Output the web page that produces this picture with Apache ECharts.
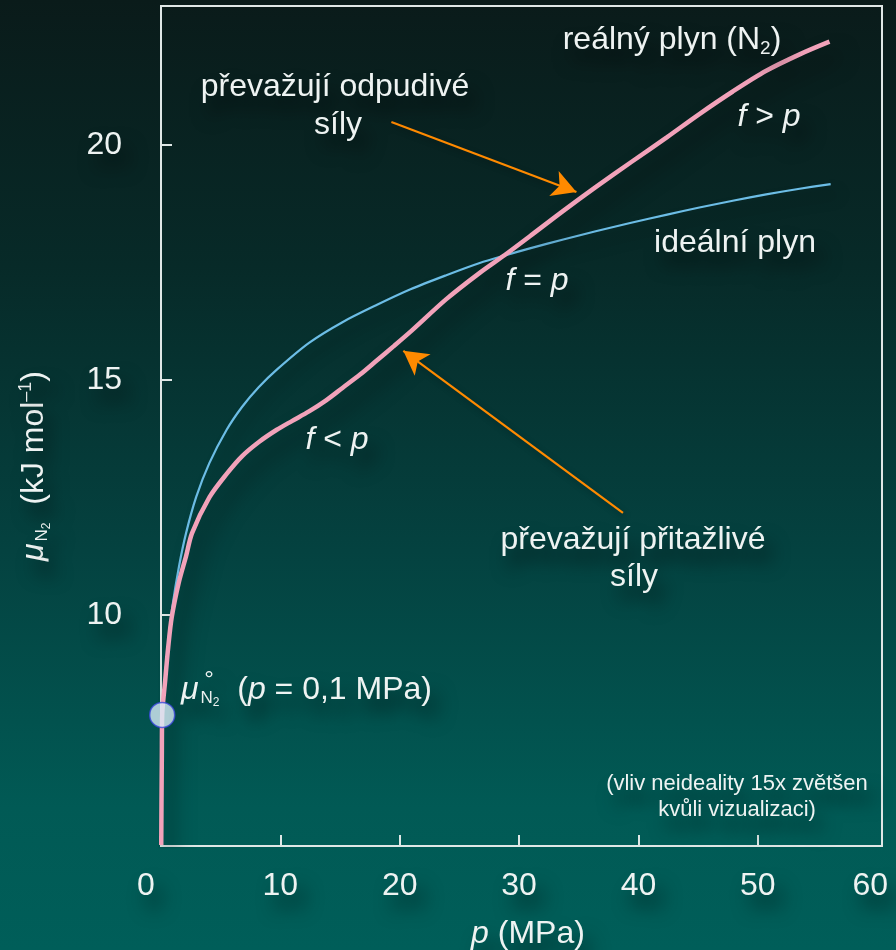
<!DOCTYPE html>
<html>
<head>
<meta charset="utf-8">
<script src="https://cdn.jsdelivr.net/npm/echarts@6/dist/echarts.min.js"></script>
<style>
  html, body { margin: 0; padding: 0; }
  #chart {
    width: 896px; height: 950px;
    background: linear-gradient(to bottom, #0a1b1a 0%, #072a28 28%, #044240 58%, #015a55 85%, #005e59 100%);
  }
</style>
</head>
<body>
<div id="chart"></div>
<script>
// Chemical potential of nitrogen vs. pressure: ideal gas and real gas (N2)
const idealP  = [0.02, 0.04, 0.07, 0.1, 0.35, 0.6, 0.95, 1.5, 2.1, 2.95, 4.05, 5.5, 6.8, 8.2, 9.7, 12.4, 15.2, 18.1, 20.9, 23.9, 26.7, 28.8, 30.9, 33.7, 36.5, 39.3, 42.4, 45.1, 48.0, 50.7, 53.5, 56.1];
const idealMu = [5.1, 6.0, 7.0, 7.87, 8.7, 9.4, 10.17, 11.02, 11.74, 12.51, 13.23, 13.94, 14.43, 14.85, 15.22, 15.79, 16.23, 16.6, 16.93, 17.23, 17.49, 17.65, 17.8, 17.99, 18.17, 18.34, 18.52, 18.67, 18.82, 18.95, 19.07, 19.17];

const realP  = [0.02, 0.04, 0.07, 0.1, 0.35, 0.6, 0.9, 1.5, 2.1, 2.6, 4.05, 5.5, 6.8, 8.2, 9.7, 11.0, 12.4, 13.8, 15.2, 16.7, 18.1, 19.5, 21.0, 23.9, 26.7, 28.8, 30.9, 33.7, 36.5, 39.4, 42.4, 45.1, 47.9, 50.7, 53.5, 56.0];
const realMu = [5.1, 6.0, 7.0, 7.87, 8.6, 9.3, 9.95, 10.7, 11.25, 11.74, 12.5, 13.0, 13.38, 13.68, 13.94, 14.13, 14.33, 14.56, 14.83, 15.12, 15.42, 15.72, 16.05, 16.72, 17.28, 17.66, 18.06, 18.6, 19.12, 19.64, 20.17, 20.66, 21.14, 21.58, 21.93, 22.2];

// standard state point, p = 0.1 MPa
const standardP = 0.1;
const standardMu = 7.87;

const xTickValues = [0, 10, 20, 30, 40, 50, 60];
const xInnerTicks = [10, 20, 30, 40, 50];
const yTickValues = [10, 15, 20];

const FONT = '"Liberation Sans", Arial, Helvetica, sans-serif';
const INK = '#eef3f2';
const AXIS = '#dfe7e6';
const SHADOW = {
  textShadowColor: 'rgba(0,0,0,0.65)',
  textShadowBlur: 18,
  textShadowOffsetX: 8,
  textShadowOffsetY: 14
};
const BIG = 32;

const zip = (xs, ys) => xs.map((x, i) => [x, ys[i]]);

function note(x, y, text, size, rich, extra) {
  return Object.assign({
    type: 'text', x: x, y: y, silent: true, z: 50,
    style: Object.assign({
      text: text,
      fill: INK,
      fontFamily: FONT,
      fontSize: size,
      align: 'center',
      verticalAlign: 'middle',
      rich: rich || {}
    }, SHADOW)
  }, extra || {});
}

const italic = { fontStyle: 'italic', fontFamily: FONT, fontSize: BIG, fill: INK, lineHeight: 34 };
const plain = { fontFamily: FONT, fontSize: BIG, fill: INK, lineHeight: 34 };

const chart = echarts.init(document.getElementById('chart'), null, { renderer: 'canvas' });

const option = {
  backgroundColor: 'transparent',
  animation: false,
  grid: {
    left: 161, right: 14, top: 6, bottom: 104,
    show: true, borderColor: AXIS, borderWidth: 2, backgroundColor: 'transparent'
  },
  xAxis: {
    type: 'value', min: 0, max: 60.4,
    axisLine: { show: true, lineStyle: { color: AXIS, width: 2 } },
    axisTick: { show: true, inside: true, length: 11, customValues: xInnerTicks, lineStyle: { color: AXIS, width: 2 } },
    splitLine: { show: false },
    axisLabel: Object.assign({
      customValues: xTickValues,
      color: INK, fontFamily: FONT, fontSize: BIG, margin: 24,
      formatter: v => v === 0 ? '{z|0}' : (v === 60 ? '{e|60}' : String(v)),
      rich: {
        z: { fontFamily: FONT, fontSize: BIG, color: INK, padding: [0, 30, 0, 0] },
        e: { fontFamily: FONT, fontSize: BIG, color: INK, padding: [0, 14, 0, 0] }
      }
    }, SHADOW)
  },
  yAxis: {
    type: 'value', min: 5.08, max: 22.96,
    axisLine: { show: true, lineStyle: { color: AXIS, width: 2 } },
    axisTick: { show: true, inside: true, length: 11, customValues: yTickValues, lineStyle: { color: AXIS, width: 2 } },
    splitLine: { show: false },
    axisLabel: Object.assign({
      customValues: yTickValues,
      color: INK, fontFamily: FONT, fontSize: BIG, margin: 39
    }, SHADOW)
  },
  series: [
    {
      name: 'ideální plyn', type: 'line', data: zip(idealP, idealMu),
      showSymbol: false, smooth: 0.3, z: 3,
      lineStyle: { color: '#6cbde6', width: 2.2, shadowColor: 'rgba(0,0,0,0.35)', shadowBlur: 14, shadowOffsetX: 8, shadowOffsetY: 10 }
    },
    {
      name: 'reálný plyn (N2)', type: 'line', data: zip(realP, realMu),
      showSymbol: false, smooth: 0.3, z: 4,
      lineStyle: { color: '#f2a2ba', width: 4.5, shadowColor: 'rgba(0,0,0,0.5)', shadowBlur: 20, shadowOffsetX: 10, shadowOffsetY: 14 },
      markLine: {
        silent: true, symbol: ['none', 'arrow'], symbolSize: [20, 24],
        label: { show: false },
        lineStyle: { color: '#ff8a00', width: 2.2, type: 'solid', shadowColor: 'rgba(0,0,0,0.3)', shadowBlur: 6, shadowOffsetX: 2, shadowOffsetY: 3 },
        data: [
          [{ coord: [19.3, 20.49] }, { coord: [34.8, 19.0] }],
          [{ coord: [38.7, 12.17] }, { coord: [20.3, 15.62] }]
        ]
      }
    },
    {
      name: 'standard', type: 'scatter', data: [[standardP, standardMu]], z: 6,
      symbol: 'circle', symbolSize: 25,
      itemStyle: { color: '#d8ecf8', borderColor: '#3b48dc', borderWidth: 1.5 }
    }
  ],
  graphic: [
    // y axis title, reading upwards
    note(34, 466, '{mu|μ}{sub|N}{sub2|2}{t|  (kJ mol}{sup|–1}{t|)}', BIG, {
      mu: italic,
      sub: { fontFamily: FONT, fontSize: 17, fill: INK, lineHeight: 18, padding: [16, 0, 0, 2] },
      sub2: { fontFamily: FONT, fontSize: 12, fill: INK, lineHeight: 13, padding: [25, 0, 0, 0] },
      t: plain,
      sup: { fontFamily: FONT, fontSize: 18, fill: INK, lineHeight: 18, padding: [0, 0, 16, 0] }
    }, { rotation: Math.PI / 2 }),
    // x axis title
    note(528, 934, '{it|p}{t| (MPa)}', BIG, { it: italic, t: plain }),
    note(672, 40, '{t|reálný plyn (N}{sub|2}{t|)}', BIG, {
      t: plain,
      sub: { fontFamily: FONT, fontSize: 19, fill: INK, lineHeight: 20, padding: [18, 0, 0, 0] }
    }),
    note(335, 87, 'převažují odpudivé', BIG),
    note(338, 125, 'síly', BIG),
    note(769, 117, '{it|f}{t| > }{it|p}', BIG, { it: italic, t: plain }),
    note(735, 243, 'ideální plyn', BIG),
    note(537, 281, '{it|f}{t| = }{it|p}', BIG, { it: italic, t: plain }),
    note(337, 440, '{it|f}{t| < }{it|p}', BIG, { it: italic, t: plain }),
    note(633, 540, 'převažují přitažlivé', BIG),
    note(634, 577, 'síly', BIG),
    note(181, 690, '{mu|μ}{sub|N}{sub2|2}{t|  (}{it|p}{t| = 0,1 MPa)}', BIG, {
      mu: italic,
      sub: { fontFamily: FONT, fontSize: 17, fill: INK, lineHeight: 18, padding: [16, 0, 0, 2] },
      sub2: { fontFamily: FONT, fontSize: 12, fill: INK, lineHeight: 13, padding: [25, 0, 0, 0] },
      t: plain,
      it: italic
    }),
    note(209, 680, '°', 24),
    note(737, 784, '(vliv neideality 15x zvětšen', 22),
    note(737, 810, 'kvůli vizualizaci)', 22)
  ]
};

// the μ° label is left-aligned
option.graphic[11].style.align = 'left';

chart.setOption(option);
</script>
</body>
</html>
